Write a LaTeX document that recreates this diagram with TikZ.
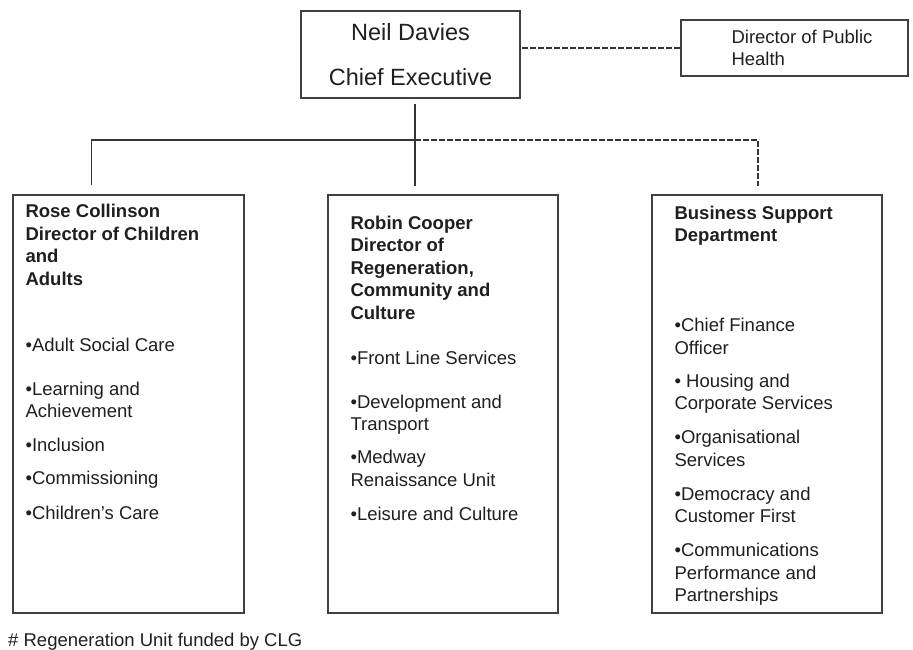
\documentclass[tikz,border=0pt]{standalone}
\usepackage{fontspec}
\setmainfont{Liberation Sans}
\usetikzlibrary{positioning}

\begin{document}
\begin{tikzpicture}[x=1pt, y=-1pt,
      every node/.append style={inner sep=0pt, text=black!88},
      unit/.style={draw=black!75, line width=1.3pt, rectangle},
      word/.style={align=left, anchor=north west, font=\fontsize{18.5}{22.5}\selectfont}]
    \tikzstyle{link} = [draw=black!80, line width=1.2pt]
    \tikzstyle{dashed link} = [link, dash pattern=on 6pt off 2pt]
    \useasboundingbox (0,0) rectangle (913,650);
    \node [unit, minimum width=219pt, minimum height=87pt, align=center,
      font=\fontsize{23.5}{45}\selectfont] (chief) at (410.5,54.5)
      {Neil Davies\\Chief Executive};
    \node [unit, minimum width=227pt, minimum height=56pt] (health) at (794.5,48) {};
    \node [word] (health_text) at ([xshift=51pt, yshift=-10.5pt]health.north west)
      {Director of Public\\Health};
    \node [unit, minimum width=231pt, minimum height=418pt] (rose) at (128.5,404) {};
    \node [unit, minimum width=230pt, minimum height=418pt] (robin) at (443,404) {};
    \node [unit, minimum width=230pt, minimum height=418pt] (business) at (767,404) {};
    \node [word] (rose_text) at ([xshift=13pt, yshift=-10pt]rose.north west)
      {\bfseries Rose Collinson\\\bfseries Director of Children\\\bfseries and\\\bfseries Adults\\[43.5pt]
       •Adult Social Care\\[21.5pt]
       •Learning and\\Achievement\\[11.5pt]
       •Inclusion\\[10pt]
       •Commissioning\\[12.5pt]
       •Children’s Care};
    \node [word] (robin_text) at ([xshift=23pt, yshift=-21.5pt]robin.north west)
      {\bfseries Robin Cooper\\\bfseries Director of\\\bfseries Regeneration,\\\bfseries Community and\\\bfseries Culture\\[22.5pt]
       •Front Line Services\\[21.5pt]
       •Development and\\Transport\\[10.5pt]
       •Medway\\Renaissance Unit\\[11.5pt]
       •Leisure and Culture};
    \node [word] (business_text) at ([xshift=23pt, yshift=-11.5pt]business.north west)
      {\bfseries Business Support\\\bfseries Department\\[67.5pt]
       •Chief Finance\\Officer\\[10.5pt]
       • Housing and\\Corporate Services\\[11.5pt]
       •Organisational\\Services\\[11.5pt]
       •Democracy and\\Customer First\\[11.5pt]
       •Communications\\Performance and\\Partnerships};
    \node [word] (note) at (8,633) {\# Regeneration Unit funded by CLG};
    \coordinate (split) at (415,140);
    \draw [dashed link] (health.west) -- (health.west -| chief.east);
    \draw [link, shorten <=5pt, shorten >=8pt] (split |- chief.south) -- (split |- robin.north);
    \draw [link, shorten >=9pt] (split) -| ([xshift=79pt]rose.north west);
    \draw [dashed link, shorten >=8pt] (split) -| ([xshift=-9pt]business.north);
\end{tikzpicture}
\end{document}
